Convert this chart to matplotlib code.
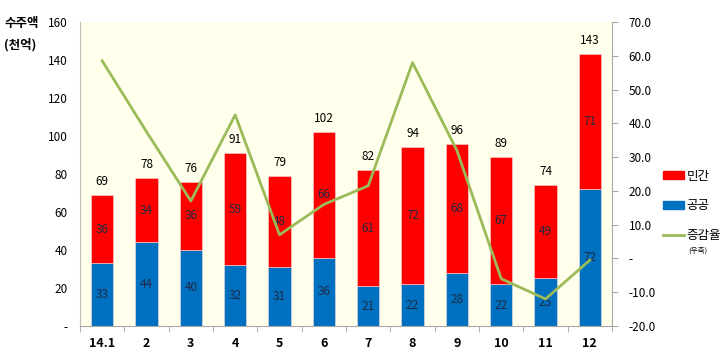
import matplotlib.pyplot as plt
import numpy as np
from matplotlib.patches import Patch
from matplotlib.lines import Line2D

plt.rcParams['font.family'] = ['Noto Sans CJK KR', 'DejaVu Sans']

# 데이터
months = ['14.1', '2', '3', '4', '5', '6', '7', '8', '9', '10', '11', '12']
gonggong = [33, 44, 40, 32, 31, 36, 21, 22, 28, 22, 25, 72]   # 공공
mingan = [36, 34, 36, 59, 48, 66, 61, 72, 68, 67, 49, 71]     # 민간
totals = [69, 78, 76, 91, 79, 102, 82, 94, 96, 89, 74, 143]
growth = [58.5, 37.5, 17.0, 42.5, 7.0, 16.0, 21.5, 58.0, 32.0, -6.0, -12.0, -0.5]

left_ticks = [0, 20, 40, 60, 80, 100, 120, 140, 160]
left_labels = ['-', '20', '40', '60', '80', '100', '120', '140', '160']
right_ticks = [-20, -10, 0, 10, 20, 30, 40, 50, 60, 70]
right_labels = ['-20.0', '-10.0', '-', '10.0', '20.0', '30.0', '40.0', '50.0', '60.0', '70.0']

blue = '#0070C0'
red = '#FF0000'
green = '#9BBB59'


def draw():
    fig = plt.figure(figsize=(7.23, 3.55), dpi=100)
    ax = fig.add_axes([0.1107, 0.0817, 0.7358, 0.8563])
    ax.set_facecolor('#FFFFEB')

    x = np.arange(len(months))
    ax.bar(x, gonggong, width=0.5, color=blue, edgecolor='#F2DCDB', linewidth=0.4)
    ax.bar(x, mingan, width=0.5, bottom=gonggong, color=red, edgecolor='#F2DCDB', linewidth=0.4)

    # 라벨
    for i in range(len(months)):
        ax.text(x[i], gonggong[i] / 2, str(gonggong[i]), ha='center', va='center',
                fontsize=8.5, color='#1F2A44')
        ax.text(x[i], gonggong[i] + mingan[i] / 2, str(mingan[i]), ha='center', va='center',
                fontsize=8.5, color='#1F2A44')
        ax.annotate(str(totals[i]), (x[i], totals[i]), xytext=(0, 5),
                    textcoords='offset points', ha='center', va='bottom', fontsize=8.5)

    ax.set_xlim(-0.5, 11.5)
    ax.set_ylim(0, 160)
    ax.set_yticks(left_ticks)
    ax.set_yticklabels(left_labels, fontsize=8.5)
    ax.tick_params(axis='y', length=0, pad=9)
    ax.set_xticks(x)
    ax.set_xticklabels(months, fontsize=9, fontweight='bold')
    ax.set_xticks(np.arange(-0.5, 12, 1), minor=True)
    ax.tick_params(axis='x', which='major', length=0, pad=8)
    ax.tick_params(axis='x', which='minor', length=4, direction='out', color='#A6A6A6')
    for s in ['top', 'right']:
        ax.spines[s].set_visible(False)
    ax.spines['left'].set_color('#BFBFBF')
    ax.spines['bottom'].set_color('#A6A6A6')

    ax2 = ax.twinx()
    ax2.plot(x, growth, color=green, linewidth=2)
    ax2.set_ylim(-20, 70)
    ax2.set_yticks(right_ticks)
    ax2.set_yticklabels(right_labels, fontsize=8.5)
    ax2.tick_params(axis='y', length=4, color='#A6A6A6', pad=8)
    for s in ['top', 'left', 'bottom']:
        ax2.spines[s].set_visible(False)
    ax2.spines['right'].set_color('#A6A6A6')

    fig.text(0.006, 0.935, '수주액', fontsize=9, fontweight='bold', va='center')
    fig.text(0.006, 0.873, '(천억)', fontsize=9, fontweight='bold', va='center')

    handles = [Patch(color=red), Patch(color=blue), Line2D([0], [0], color=green, linewidth=2)]
    fig.legend(handles, ['민간', '공공', '증감율'], loc='center left',
               bbox_to_anchor=(0.905, 0.42), frameon=False, fontsize=9,
               handlelength=1.7, handleheight=0.6, handletextpad=0.2, labelspacing=1.35,
               borderpad=0.2)
    fig.text(0.965, 0.295, '(우축)', fontsize=5.5, ha='center', va='center')

    fig.savefig('out.png', dpi=100)


def main():
    draw()


if __name__ == "__main__":
    main()
